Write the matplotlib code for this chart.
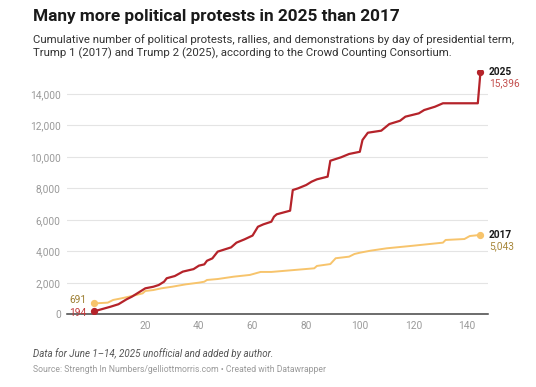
import matplotlib
matplotlib.use("Agg")
import matplotlib.pyplot as plt

plt.rcParams['font.family'] = ['Roboto', 'DejaVu Sans']

# data (day of term, cumulative protests)
days_2025 = [1, 7, 10, 13, 15, 17, 20, 23, 25, 27, 28, 31, 34, 38, 40, 42, 43, 45, 47, 52,
             54, 57, 60, 62, 64, 67, 68, 69, 74, 75, 77, 80, 82, 84, 88, 89, 93, 96, 100, 101,
             103, 108, 111, 115, 117, 122, 124, 128, 131, 144, 145]
vals_2025 = [194, 480, 640, 950, 1120, 1330, 1650, 1750, 1860, 2070, 2290, 2430, 2710, 2870,
             3090, 3170, 3400, 3550, 3980, 4250, 4550, 4760, 5000, 5560, 5710, 5880, 6200,
             6350, 6580, 7890, 8000, 8210, 8420, 8570, 8740, 9750, 9970, 10180, 10320, 11070,
             11530, 11660, 12080, 12290, 12550, 12760, 12970, 13180, 13400, 13400, 15396]

days_2017 = [1, 6, 8, 11, 15, 19, 20, 23, 26, 30, 35, 40, 42, 43, 47, 53, 59, 63, 67, 83, 84,
             89, 91, 96, 98, 100, 104, 110, 119, 131, 132, 139, 141, 145]
vals_2017 = [691, 740, 910, 1010, 1160, 1330, 1480, 1540, 1650, 1750, 1900, 2010, 2070, 2180,
             2240, 2390, 2500, 2690, 2690, 2920, 3070, 3190, 3560, 3660, 3830, 3910, 4040, 4190,
             4340, 4550, 4720, 4780, 4970, 5043]

yticks = [0, 2000, 4000, 6000, 8000, 10000, 12000, 14000]
xticks = [20, 40, 60, 80, 100, 120, 140]

red = '#b5232a'
gold = '#f7c46c'

W, H = 536, 387
fig = plt.figure(figsize=(W / 100, H / 100), dpi=100)
ax = fig.add_axes([67 / W, (H - 314.3) / H, 421 / W, 244.1 / H])

ax.plot(days_2017, vals_2017, color=gold, lw=1.4, solid_joinstyle='round', zorder=3)
ax.plot(days_2025, vals_2025, color=red, lw=1.6, solid_joinstyle='round', zorder=4)
ax.plot([days_2017[0], days_2017[-1]], [vals_2017[0], vals_2017[-1]], 'o', color=gold, ms=4.2, zorder=5)
ax.plot([days_2025[0], days_2025[-1]], [vals_2025[0], vals_2025[-1]], 'o', color=red, ms=4.2, zorder=6)

ax.set_xlim(-9.2, 147.8)
ax.set_ylim(0, 15500)
ax.set_yticks(yticks)
ax.set_yticklabels(['{:,}'.format(v) for v in yticks])
ax.set_xticks(xticks)
ax.tick_params(length=0, labelsize=7.3, colors='#9a9a9a')
ax.tick_params(axis='y', pad=4.5)
ax.tick_params(axis='x', pad=5)
ax.grid(axis='y', color='#e4e4e4', lw=0.8)
ax.set_axisbelow(True)
for s in ['top', 'right', 'left']:
    ax.spines[s].set_visible(False)
ax.spines['bottom'].set_color('#444444')
ax.spines['bottom'].set_linewidth(1.1)
ax.spines['bottom'].set_zorder(2)

# end labels
ax.annotate('2025', (days_2025[-1], vals_2025[-1]), xytext=(6, 0), textcoords='offset points',
            fontsize=7.3, fontweight='bold', color='#1a1a1a', va='center', annotation_clip=False)
ax.annotate('{:,}'.format(vals_2025[-1]), (days_2025[-1], vals_2025[-1]), xytext=(6, -8.3),
            textcoords='offset points', fontsize=7.3, color='#c4504f', va='center', annotation_clip=False)
ax.annotate('2017', (days_2017[-1], vals_2017[-1]), xytext=(6, 0), textcoords='offset points',
            fontsize=7.3, fontweight='bold', color='#1a1a1a', va='center', annotation_clip=False)
ax.annotate('{:,}'.format(vals_2017[-1]), (days_2017[-1], vals_2017[-1]), xytext=(6, -8.3),
            textcoords='offset points', fontsize=7.3, color='#a8873a', va='center', annotation_clip=False)
# start labels
ax.annotate(str(vals_2017[0]), (days_2017[0], vals_2017[0]), xytext=(-5.5, 2.5), textcoords='offset points',
            fontsize=7.3, color='#9c7d30', ha='right', va='center', annotation_clip=False)
ax.annotate(str(vals_2025[0]), (days_2025[0], vals_2025[0]), xytext=(-5.5, -1.2), textcoords='offset points',
            fontsize=7.3, color='#c0393b', ha='right', va='center', annotation_clip=False, zorder=7)

# titles and notes
fig.text(33 / W, 1 - 20.7 / H, 'Many more political protests in 2025 than 2017',
         fontsize=12.4, fontweight='bold', color='#1a1a1a', va='baseline')
fig.text(33 / W, 1 - 43.3 / H,
         'Cumulative number of political protests, rallies, and demonstrations by day of presidential term,',
         fontsize=8.2, color='#333333', va='baseline')
fig.text(33 / W, 1 - 56.8 / H,
         'Trump 1 (2017) and Trump 2 (2025), according to the Crowd Counting Consortium.',
         fontsize=8.2, color='#333333', va='baseline')
fig.text(33 / W, 1 - 353.5 / H, 'Data for June 1\u201314, 2025 unofficial and added by author.',
         fontsize=7.0, style='italic', color='#555555', va='center')
fig.text(33 / W, 1 - 369 / H,
         'Source: Strength In Numbers/gelliottmorris.com \u2022 Created with Datawrapper',
         fontsize=6.25, color='#9a9a9a', va='center')

fig.savefig('out.png', dpi=100, facecolor='white')
